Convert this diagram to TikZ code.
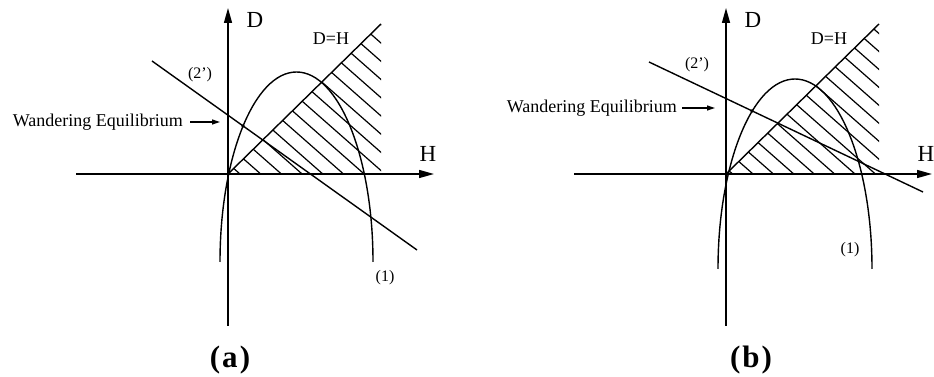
\documentclass[tikz,border=0pt]{standalone}
\usepackage{fontspec}
\setmainfont{Liberation Serif}
\usetikzlibrary{arrows.meta}
\tikzset{
    axis/.style={line width=1.4pt, -{Triangle[length=15pt,width=8pt]}},
    curve/.style={line width=1.4pt},
    hatchline/.style={line width=1.2pt},
    ptr/.style={line width=1.2pt, -{Triangle[length=8pt,width=5pt]}},
    axlbl/.style={font=\fontsize{23}{23}\selectfont, inner sep=0pt},
    eqlbl/.style={font=\fontsize{18}{18}\selectfont, inner sep=0pt},
    small/.style={font=\fontsize{16}{16}\selectfont, inner sep=0pt},
    wlbl/.style={font=\fontsize{18}{18}\selectfont, inner sep=0pt, anchor=east},
    caplbl/.style={font=\fontsize{31}{31}\selectfont\bfseries, inner sep=0pt}
}
\newcommand{\dhaxes}[2]{
    \coordinate (o) at (0,0);
    \coordinate (dtop) at (0,166);
    \coordinate (dbot) at (0,-152);
    \coordinate (hleft) at (-152,0);
    \coordinate (hright) at (206,0);
    \coordinate (diag) at (153,150);
    \coordinate (corner) at (153,0);
    \begin{scope}
        \clip (o) -- (diag) -- (corner) -- cycle;
        \foreach \k [evaluate=\k as \c using #1+#2*\k] in {0,...,16}
            \draw[hatchline] (\c+20,-17.6) -- (\c-200,176);
    \end{scope}
    \draw[axis] (dbot) -- (dtop);
    \draw[axis] (hleft) -- (hright);
    \draw[curve] (o) -- (diag);
    \node[axlbl] (dlbl) at (27,154) {D};
    \node[axlbl] (hlbl) at (200,20) {H};
    \node[eqlbl] (dh) at (103,135) {D=H};
}

\begin{document}
\begin{tikzpicture}[x=1pt, y=1pt]
    \useasboundingbox (0,0) rectangle (934,377);
    \begin{scope}[shift={(228,203)}]
        \dhaxes{12}{20.7}
        \draw[curve] (-8,-88) arc[start angle=180, end angle=0, x radius=76.5, y radius=190];
        \coordinate (la) at (-76,113);
        \coordinate (lb) at (189,-76);
        \draw[curve] (la) -- (lb);
        \node[small] (two) at (-28,99) {(2')};
        \node[small] (one) at (157,-104) {(1)};
        \node[wlbl] (we) at (-45,52) {Wandering Equilibrium};
        \coordinate (wetip) at (-8,52);
        \draw[ptr, shorten <=7pt] (we.east) -- (wetip);
        \fill (15,48) circle (1.8);
        \node[caplbl] (capa) at (2,-186) {(\kern2pt a\kern2pt)};
    \end{scope}
    \begin{scope}[shift={(726,203)}]
        \dhaxes{6.6}{20.4}
        \draw[curve] (-8,-95) arc[start angle=180, end angle=0, x radius=77, y radius=190];
        \coordinate (la) at (-77,112);
        \coordinate (lb) at (197,-18);
        \draw[curve] (la) -- (lb);
        \node[small] (two) at (-29,109) {(2')};
        \node[small] (one) at (124,-76) {(1)};
        \node[wlbl] (we) at (-49,66) {Wandering Equilibrium};
        \coordinate (wetip) at (-11,66);
        \draw[ptr, shorten <=5pt] (we.east) -- (wetip);
        \fill (26,63) circle (1.8);
        \node[caplbl] (capb) at (25,-186) {(\kern2pt b\kern2pt)};
    \end{scope}
\end{tikzpicture}
\end{document}
